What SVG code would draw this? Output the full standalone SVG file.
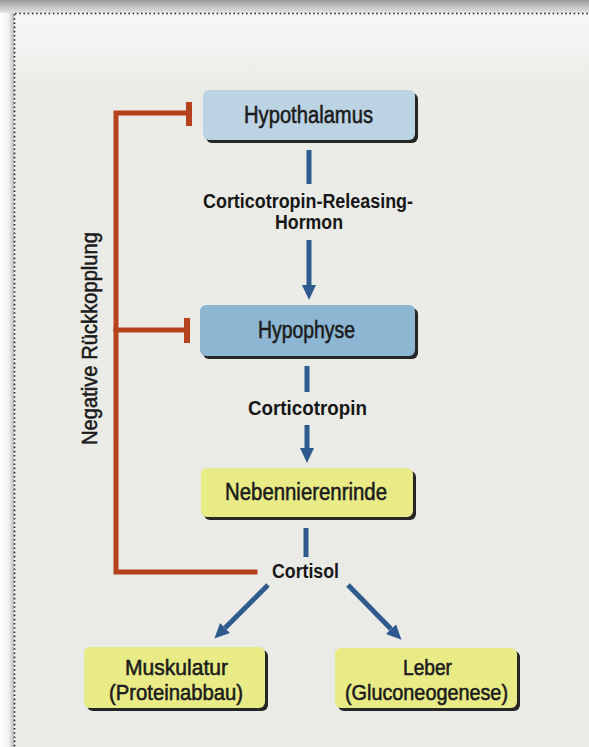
<svg xmlns="http://www.w3.org/2000/svg" width="589" height="747" viewBox="0 0 589 747">
  <defs>
    <linearGradient id="topShade" x1="0" y1="0" x2="0" y2="1">
      <stop offset="0" stop-color="#9a9a9a"/>
      <stop offset="1" stop-color="#e6e6e6"/>
    </linearGradient>
    <linearGradient id="leftShade" x1="0" y1="0" x2="1" y2="0">
      <stop offset="0" stop-color="#ffffff"/>
      <stop offset="0.6" stop-color="#f2f2f2"/>
      <stop offset="1" stop-color="#bdbdbd"/>
    </linearGradient>
    <linearGradient id="paper" x1="0" y1="0" x2="0" y2="1">
      <stop offset="0" stop-color="#f6f6f4"/>
      <stop offset="0.05" stop-color="#f3f3f1"/>
      <stop offset="0.09" stop-color="#ebebe7"/>
      <stop offset="1" stop-color="#eaeae6"/>
    </linearGradient>
    <marker id="arrow" markerUnits="userSpaceOnUse" viewBox="0 0 15 14" refX="0" refY="7" markerWidth="15" markerHeight="14" orient="auto">
      <path d="M0,0 L15,7 L0,14 Z" fill="#2e5a8e"/>
    </marker>
    <style>
      .box-shadow { fill: #262626; }
      .blue-light { fill: #bcd3e3; }
      .blue-mid { fill: #8db6d2; }
      .yellow { fill: #e8eb86; }
      .node-text { font-family: "Liberation Sans Narrow", "Liberation Sans", Arial, sans-serif; fill: #1b1b1b; stroke: #1b1b1b; stroke-width: 0.55; text-anchor: middle; }
      .big { font-size: 23.5px; }
      .small { font-size: 21.5px; }
      .label { font-family: "Liberation Sans Narrow", "Liberation Sans", Arial, sans-serif; font-weight: bold; font-size: 20px; fill: #161616; text-anchor: middle; }
      .flow { stroke: #2e5a8e; stroke-width: 5; fill: none; }
      .feedback { stroke: #b5421d; stroke-width: 5; fill: none; stroke-linecap: square; }
      .bar { stroke: #b5421d; stroke-width: 6; fill: none; }
    </style>
  </defs>

  <!-- page background and frame -->
  <rect x="0" y="0" width="589" height="747" fill="#ffffff"/>
  <rect x="0" y="0" width="589" height="13" fill="url(#topShade)"/>
  <rect x="0" y="13" width="14" height="734" fill="url(#leftShade)"/>
  <rect x="15" y="14" width="574" height="733" fill="url(#paper)"/>
  <line x1="15" y1="13.5" x2="589" y2="13.5" stroke="#1e1e1e" stroke-width="1.6" stroke-dasharray="1.6 2.6"/>
  <line x1="14.5" y1="14" x2="14.5" y2="747" stroke="#1e1e1e" stroke-width="1.6" stroke-dasharray="1.6 2.6"/>

  <!-- connectors -->
  <g id="connectors">
    <line class="flow" x1="309" y1="150" x2="309" y2="184"/>
    <line class="flow" x1="309" y1="240" x2="309" y2="285" marker-end="url(#arrow)"/>
    <line class="flow" x1="307" y1="366" x2="307" y2="392"/>
    <line class="flow" x1="307" y1="425" x2="307" y2="448" marker-end="url(#arrow)"/>
    <line class="flow" x1="306" y1="528" x2="306" y2="557"/>
    <line class="flow" x1="268" y1="585" x2="225" y2="628" marker-end="url(#arrow)"/>
    <line class="flow" x1="348" y1="585" x2="391" y2="629" marker-end="url(#arrow)"/>

    <polyline class="feedback" points="186,113 116,113 116,572 255,572"/>
    <line class="feedback" x1="116" y1="330" x2="184" y2="330"/>
    <line class="bar" x1="189" y1="102" x2="189" y2="126"/>
    <line class="bar" x1="187" y1="318" x2="187" y2="343"/>
  </g>

  <text class="node-text small" transform="translate(97,338.5) rotate(-90)" textLength="213" lengthAdjust="spacingAndGlyphs">Negative Rückkopplung</text>

  <text class="label" x="308" y="208" textLength="210" lengthAdjust="spacingAndGlyphs">Corticotropin-Releasing-</text>
  <text class="label" x="309" y="229" textLength="68" lengthAdjust="spacingAndGlyphs">Hormon</text>
  <text class="label" x="307.5" y="415" textLength="119" lengthAdjust="spacingAndGlyphs">Corticotropin</text>
  <text class="label" x="305.5" y="578" textLength="67" lengthAdjust="spacingAndGlyphs">Cortisol</text>

  <!-- nodes -->
  <g id="hypothalamus">
    <rect class="box-shadow" x="206" y="93" width="212" height="50" rx="6"/>
    <rect class="blue-light" x="203" y="90" width="212" height="50" rx="6"/>
    <text class="node-text big" x="308.5" y="123" textLength="129" lengthAdjust="spacingAndGlyphs">Hypothalamus</text>
  </g>

  <g id="hypophyse">
    <rect class="box-shadow" x="203" y="308" width="215" height="51" rx="6"/>
    <rect class="blue-mid" x="200" y="305" width="215" height="51" rx="6"/>
    <text class="node-text big" x="306.5" y="338" textLength="97" lengthAdjust="spacingAndGlyphs">Hypophyse</text>
  </g>

  <g id="nebennierenrinde">
    <rect class="box-shadow" x="204" y="471" width="212" height="49" rx="6"/>
    <rect class="yellow" x="201" y="468" width="212" height="49" rx="6"/>
    <text class="node-text big" x="306" y="500" textLength="162" lengthAdjust="spacingAndGlyphs">Nebennierenrinde</text>
  </g>

  <g id="muskulatur">
    <rect class="box-shadow" x="87" y="650" width="181" height="61" rx="6"/>
    <rect class="yellow" x="84" y="647" width="181" height="61" rx="6"/>
    <text class="node-text small" x="176.5" y="675" textLength="103" lengthAdjust="spacingAndGlyphs">Muskulatur</text>
    <text class="node-text small" x="176" y="700" textLength="134" lengthAdjust="spacingAndGlyphs">(Proteinabbau)</text>
  </g>

  <g id="leber">
    <rect class="box-shadow" x="338" y="651" width="182" height="60" rx="6"/>
    <rect class="yellow" x="335" y="648" width="182" height="60" rx="6"/>
    <text class="node-text small" x="427.5" y="675" textLength="49" lengthAdjust="spacingAndGlyphs">Leber</text>
    <text class="node-text small" x="426.5" y="700" textLength="163" lengthAdjust="spacingAndGlyphs">(Gluconeogenese)</text>
  </g>
</svg>
